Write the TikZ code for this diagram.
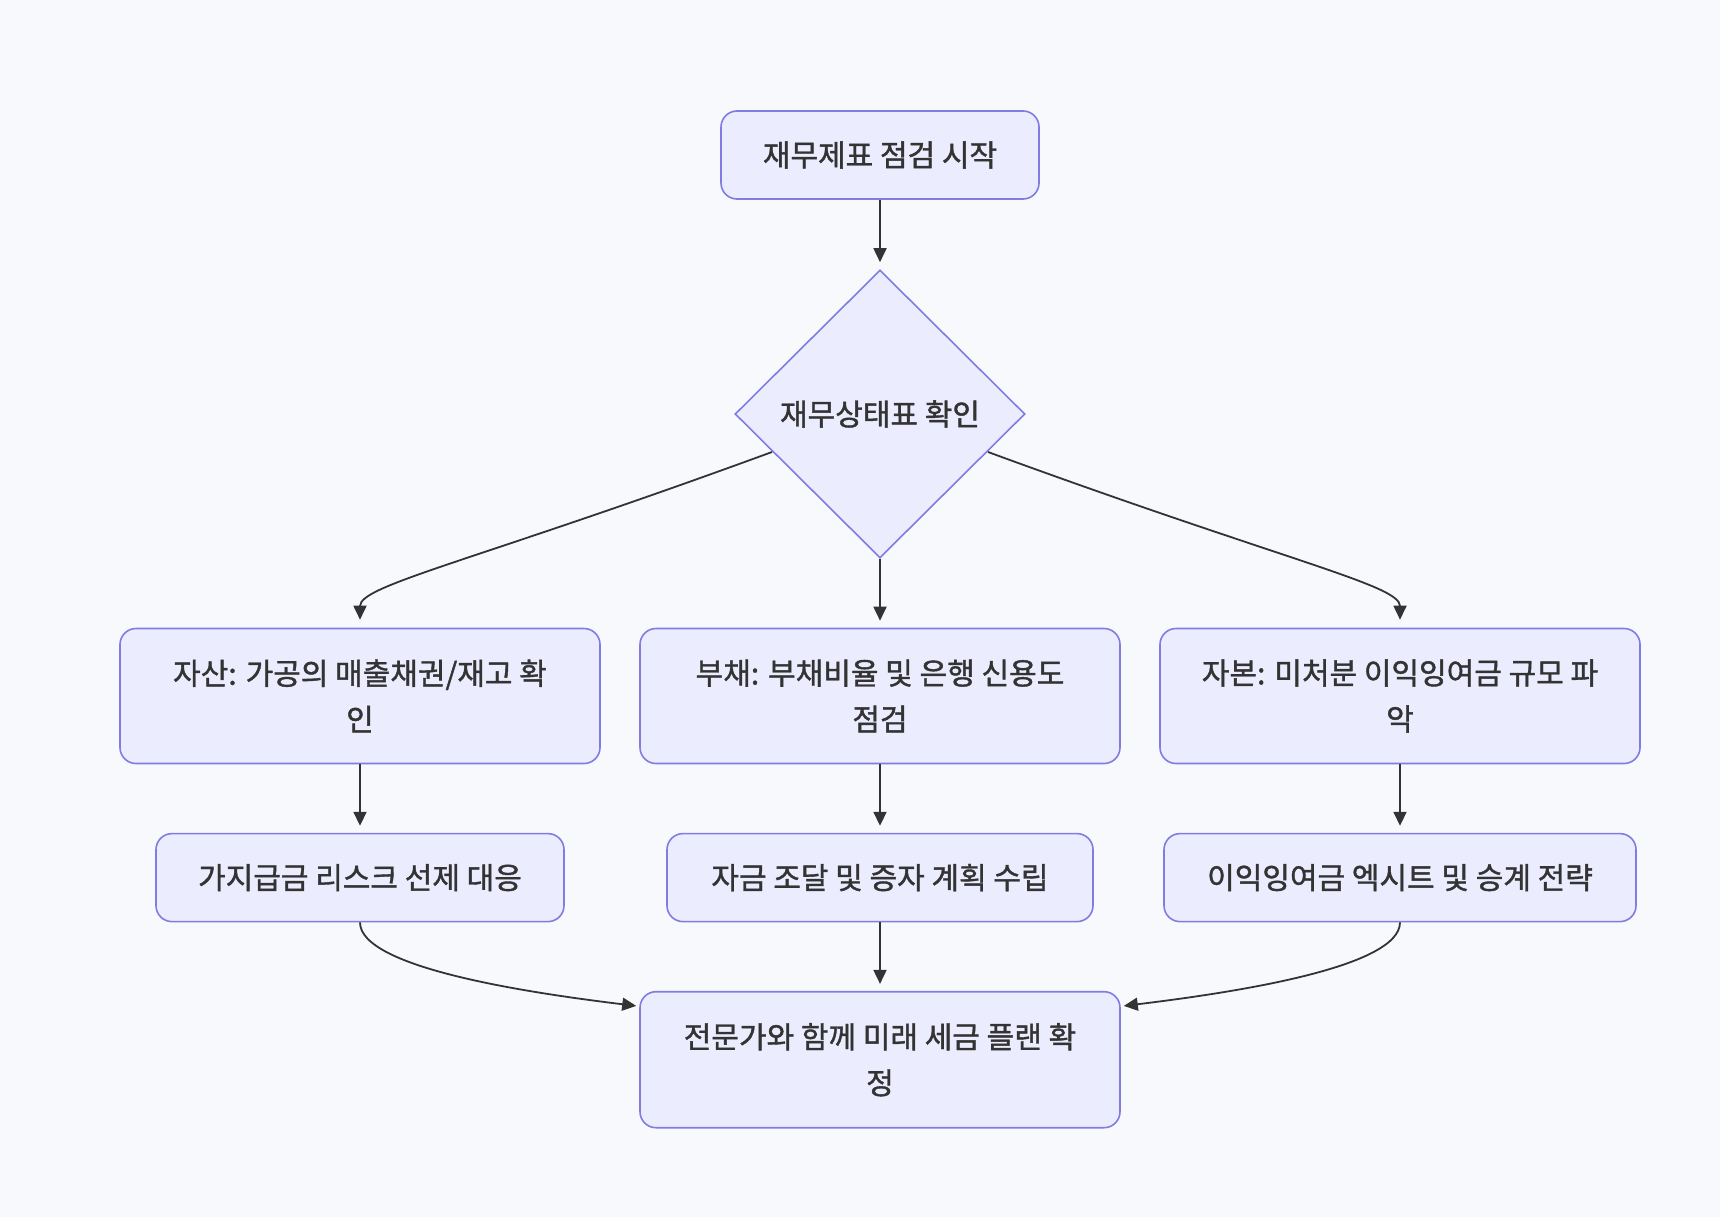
\documentclass[tikz,border=0pt]{standalone}
\usepackage{fontspec}
\setmainfont{Noto Sans CJK KR}[FakeBold=1.3]
\usetikzlibrary{shapes.geometric,arrows.meta,calc}
\definecolor{bgc}{RGB}{248,249,252}
\definecolor{nodefill}{RGB}{236,236,255}
\definecolor{nodeline}{RGB}{128,124,226}
\definecolor{txt}{RGB}{51,51,51}
\definecolor{edge}{RGB}{51,51,51}
\begin{document}
\begin{tikzpicture}[x=1pt,y=-1pt,
  box/.style={draw=nodeline,fill=nodefill,line width=1.6pt,rounded corners=16pt,
    inner sep=0pt,align=center,text=txt,font=\fontsize{30}{46}\selectfont},
  dia/.style={diamond,draw=nodeline,fill=nodefill,line width=1.6pt,inner sep=0pt,
    minimum width=290pt,minimum height=288pt,text=txt,font=\fontsize{30}{46}\selectfont},
  conn/.style={draw=edge,line width=1.8pt,-{Triangle[length=14pt,width=13pt]}}]
\fill[bgc] (0,0) rectangle (1720,1217);
\useasboundingbox (0,0) rectangle (1720,1217);

\node[box,minimum width=318pt,minimum height=88pt] (s) at (880,155) {재무제표 점검 시작};
\node[dia] (d) at (880,414) {재무상태표 확인};

\node[box,minimum width=480pt,minimum height=135pt] (b1) at (360,696) {자산: 가공의 매출채권/재고 확\\인};
\node[box,minimum width=480pt,minimum height=135pt] (b2) at (880,696) {부채: 부채비율 및 은행 신용도\\점검};
\node[box,minimum width=480pt,minimum height=135pt] (b3) at (1400,696) {자본: 미처분 이익잉여금 규모 파\\악};

\node[box,minimum width=408pt,minimum height=88pt] (c1) at (360,877.6) {가지급금 리스크 선제 대응};
\node[box,minimum width=426pt,minimum height=88pt] (c2) at (880,877.6) {자금 조달 및 증자 계획 수립};
\node[box,minimum width=472pt,minimum height=88pt] (c3) at (1400,877.6) {이익잉여금 엑시트 및 승계 전략};

\node[box,minimum width=480pt,minimum height=136pt] (e) at (880,1059.7) {전문가와 함께 미래 세금 플랜 확\\정};

\draw[conn,shorten >=7pt] (s.south) -- (d.north);
\draw[conn,shorten >=7pt] (d.south) -- (b2.north);
\draw[conn] ($(d.center)+(-108,38)$) .. controls (472,562) and (360,585) .. ($(b1.north)+(0,-8)$);
\draw[conn] ($(d.center)+(108,38)$) .. controls (1288,562) and (1400,585) .. ($(b3.north)+(0,-8)$);

\draw[conn,shorten >=7pt] (b1.south) -- (c1.north);
\draw[conn,shorten >=7pt] (b2.south) -- (c2.north);
\draw[conn,shorten >=7pt] (b3.south) -- (c3.north);

\draw[conn,shorten >=7pt] (c2.south) -- (e.north);
\draw[conn] (c1.south) .. controls (360,968) and (530,993) .. ($(e.north west)+(-3,15)$);
\draw[conn] (c3.south) .. controls (1400,968) and (1230,993) .. ($(e.north east)+(3,15)$);
\end{tikzpicture}
\end{document}
